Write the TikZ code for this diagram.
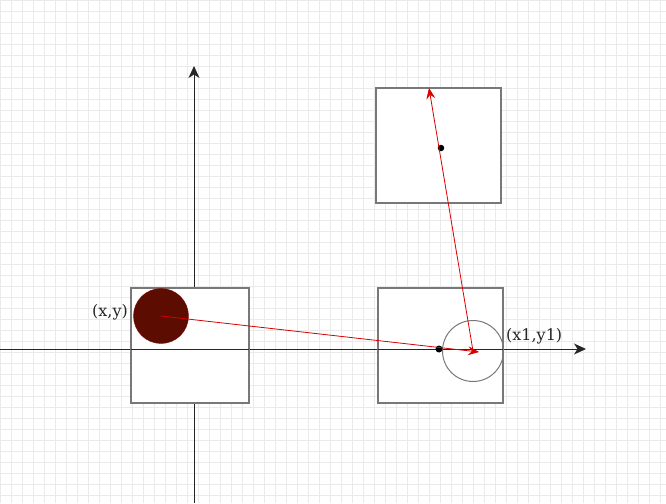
\documentclass[tikz,border=0pt]{standalone}
\usepackage{tikz}
\usetikzlibrary{arrows.meta, positioning, calc, backgrounds}
\usepackage{xcolor}
\usepackage{fontspec}
\setmainfont{DejaVu Serif}
\definecolor{boxgray}{RGB}{120,120,120}
\definecolor{dotred}{RGB}{92,12,0}
\definecolor{gridgray}{RGB}{234,234,234}

\begin{document}
\begin{tikzpicture}[
    x=1pt, y=-1pt,
    frame/.style={draw=boxgray, line width=1.4pt},
    axis/.style={-{Stealth[length=12pt, width=11pt, inset=3.5pt]}, draw=black!85, line width=1pt},
    move/.style={-{Stealth[length=11pt, width=9pt, inset=4pt]}, draw=red!85!black, line width=0.8pt},
    pt/.style={circle, fill=black, inner sep=0pt, minimum size=7pt},
    lbl/.style={font=\fontsize{16}{18}\selectfont, text=black!85, inner sep=1pt},
]
\useasboundingbox (0,0) rectangle (666,503);
% background grid
\foreach \i in {0,...,61}
    \draw[gridgray, line width=0.9pt] (\i*11,0) -- (\i*11,503);
\foreach \j in {0,...,46}
    \draw[gridgray, line width=0.9pt] (0,\j*11) -- (666,\j*11);

% axes
\coordinate (ox) at (194,349);
\draw[axis] (0,349) -- (586,349);
\draw[axis] (194,503) -- (194,66);

% boxes
\node[frame, fill=white, minimum width=118pt, minimum height=115pt, inner sep=0pt] (boxA) at (190,345.5) {};
\node[frame, fill=white, minimum width=125pt, minimum height=115pt, inner sep=0pt] (boxB) at (440.5,345.5) {};
\node[frame, fill=white, minimum width=125pt, minimum height=115pt, inner sep=0pt] (boxC) at (438.5,145.5) {};
\draw[black!85, line width=1pt] (131,349) -- (249,349);
\draw[black!85, line width=1pt] (378,349) -- (503,349);

% ball and target
\node[circle, fill=dotred, draw=dotred!80!red, minimum size=55pt, inner sep=0pt] (ball) at (161,316) {};
\node[circle, draw=boxgray, line width=1pt, minimum size=61pt, inner sep=0pt] (ring) at (473,351) {};
\node[pt] (mid) at (439,349) {};
\node[pt, minimum size=6.5pt] (top) at (441,148) {};
\coordinate (hit) at (479,352);
\coordinate (up) at (429,88);

% labels
\node[lbl, anchor=east] (lxy) at (129,312) {(x,y)};
\node[lbl, anchor=west] (lx1) at (505,336) {(x1,y1)};

% moves
\draw[move] (ball.center) -- (hit);
\draw[move] (ring.center) -- (up);
\end{tikzpicture}
\end{document}
